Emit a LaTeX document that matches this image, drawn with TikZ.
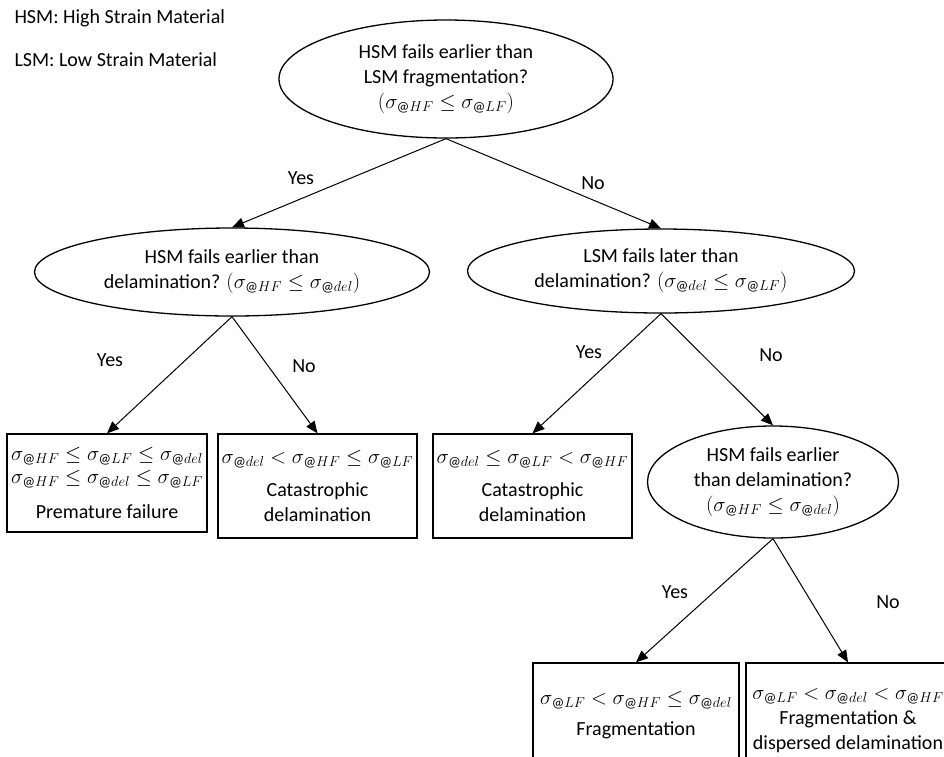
\documentclass[tikz,border=0pt]{standalone}
\usepackage{fontspec}
\setmainfont{Carlito}
\usepackage{amsmath,amssymb}
\usetikzlibrary{shapes.geometric,arrows.meta}
\newcommand{\sgm}[1]{\sigma_{@#1}}

\begin{document}
\begin{tikzpicture}[x=1pt,y=-1pt,font=\fontsize{20}{25}\selectfont,
 ask/.style={draw,ellipse,line width=1.3pt,inner sep=0pt,align=center},
 result/.style={draw,rectangle,line width=1.3pt,inner sep=0pt,align=center},
 arr/.style={-{Triangle[length=12pt,width=10pt]},line width=1pt}]
 \clip (0,0) rectangle (944,756);
 \node[anchor=west] (hsm) at (11,18) {HSM: High Strain Material};
 \node[anchor=west] (lsm) at (11,60) {LSM: Low Strain Material};

 \node[ask,minimum width=334,minimum height=118] (q1) at (446,79) {HSM fails earlier than\\ LSM fragmentation?\\ $(\sgm{HF}\le\sgm{LF})$};
 \node[ask,minimum width=395,minimum height=88] (q2) at (232,272) {HSM fails earlier than\\ delamination? $(\sgm{HF}\le\sgm{del})$};
 \node[ask,minimum width=387,minimum height=84] (q3) at (661,271) {LSM fails later than\\ delamination? $(\sgm{del}\le\sgm{LF})$};
 \node[ask,minimum width=251,minimum height=112] (q4) at (773,482) {HSM fails earlier\\ than delamination?\\ $(\sgm{HF}\le\sgm{del})$};

 \node[result,minimum width=200,minimum height=98] (r1) at (107,483) {$\sgm{HF}\le\sgm{LF}\le\sgm{del}$\\[-2pt] $\sgm{HF}\le\sgm{del}\le\sgm{LF}$\\[10pt] Premature failure};
 \node[result,minimum width=199,minimum height=104] (r2) at (317.5,486) {$\sgm{del}<\sgm{HF}\le\sgm{LF}$\\[8pt] Catastrophic\\ delamination};
 \node[result,minimum width=199,minimum height=104] (r3) at (532.5,486) {$\sgm{del}\le\sgm{LF}<\sgm{HF}$\\[8pt] Catastrophic\\ delamination};
 \node[result,minimum width=206,minimum height=104] (r4) at (636,715) {$\sgm{LF}<\sgm{HF}\le\sgm{del}$\\[6pt] Fragmentation};
 \node[result,minimum width=204,minimum height=116] (r5) at (848,721) {$\sgm{LF}<\sgm{del}<\sgm{HF}$\\ Fragmentation \&\\ dispersed delamination};

 \draw[arr] (q1.south) -- (q2.north);
 \draw[arr] (q1.south) -- (q3.north);
 \draw[arr] (q2.south) -- (r1.north);
 \draw[arr] (q2.south) -- (r2.north);
 \draw[arr] (q3.south) -- (r3.north);
 \draw[arr] (q3.south) -- (q4.north);
 \draw[arr] (q4.south) -- (r4.north);
 \draw[arr] (q4.south) -- (r5.north);

 \node (y1) at (301,178) {Yes};
 \node (n1) at (593,183) {No};
 \node (y2) at (110,360) {Yes};
 \node (n2) at (304,366) {No};
 \node (y3) at (589,352) {Yes};
 \node (n3) at (771,355) {No};
 \node (y4) at (675,592) {Yes};
 \node (n4) at (888,602) {No};
\end{tikzpicture}
\end{document}
